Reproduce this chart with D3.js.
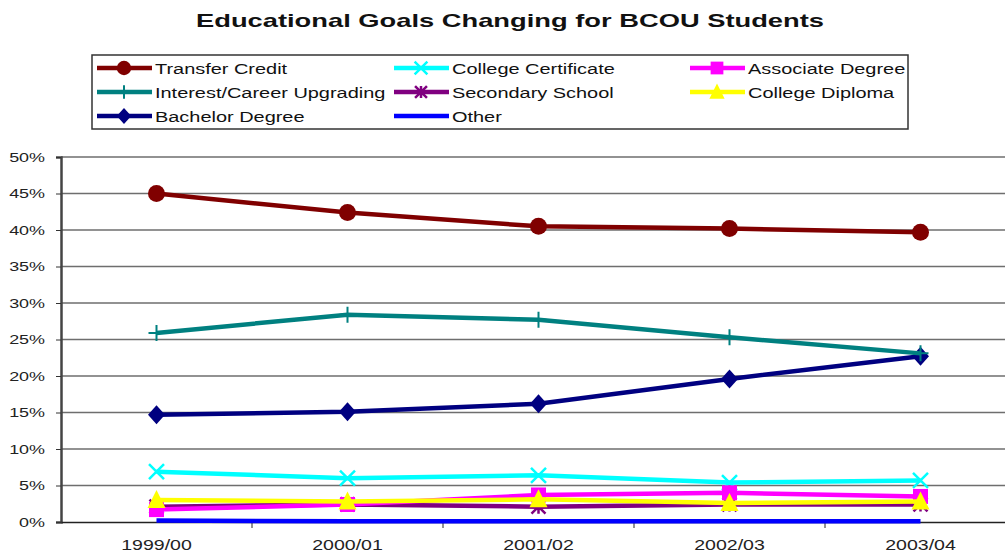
<!DOCTYPE html>
<html>
<head>
<meta charset="utf-8">
<script src="https://cdn.jsdelivr.net/npm/d3@7"></script>
<style>
  body { margin: 0; background: #fff; }
  svg { font-family: 'Liberation Sans', Arial, sans-serif; display: block; }
</style>
</head>
<body>
<script>
const years = ['1999/00', '2000/01', '2001/02', '2002/03', '2003/04']
const yTicks = [0, 0.05, 0.1, 0.15, 0.2, 0.25, 0.3, 0.35, 0.4, 0.45, 0.5]

const transferCredit = [0.450, 0.424, 0.405, 0.402, 0.397]
const collegeCertificate = [0.069, 0.060, 0.064, 0.054, 0.057]
const associateDegree = [0.017, 0.024, 0.037, 0.040, 0.035]
const interestCareer = [0.259, 0.284, 0.277, 0.253, 0.231]
const secondarySchool = [0.021, 0.024, 0.021, 0.024, 0.024]
const collegeDiploma = [0.030, 0.028, 0.031, 0.026, 0.028]
const bachelorDegree = [0.147, 0.151, 0.162, 0.196, 0.227]
const other = [0.002, 0.001, 0.001, 0.001, 0.001]

const series = [
    {name: 'Transfer Credit', values: transferCredit, color: '#800000', marker: 'circle'},
    {name: 'College Certificate', values: collegeCertificate, color: '#00ffff', marker: 'x'},
    {name: 'Associate Degree', values: associateDegree, color: '#ff00ff', marker: 'square'},
    {name: 'Interest/Career Upgrading', values: interestCareer, color: '#008080', marker: 'plus'},
    {name: 'Secondary School', values: secondarySchool, color: '#800080', marker: 'star'},
    {name: 'College Diploma', values: collegeDiploma, color: '#ffff00', marker: 'triangle'},
    {name: 'Bachelor Degree', values: bachelorDegree, color: '#000080', marker: 'diamond'},
    {name: 'Other', values: other, color: '#0000ff', marker: 'none'}
]

const width = 1005, height = 552
const margin = {left: 61, right: -11, top: 157, bottom: 30}
const sx = 1.33  // the original text is drawn horizontally stretched

const svg = d3.select('body').append('svg')
    .attr('width', width)
    .attr('height', height)

svg.append('text')
    .attr('x', 196).attr('y', 27)
    .attr('textLength', 628).attr('lengthAdjust', 'spacingAndGlyphs')
    .style('font-size', '19px').style('font-weight', 'bold')
    .attr('fill', '#111')
    .text('Educational Goals Changing for BCOU Students')

let x = d3.scaleBand().domain(years)
    .range([margin.left, width - margin.right])
let y = d3.scaleLinear().domain([0, 0.5])
    .range([height - margin.bottom, margin.top])

// gridlines
svg.append('g').selectAll('line')
    .data(yTicks.slice(1)).enter()
    .append('line')
    .attr('x1', margin.left).attr('x2', width - margin.right)
    .attr('y1', d => y(d)).attr('y2', d => y(d))
    .attr('stroke', '#6e6e6e').attr('stroke-width', 1.5)

// y axis
let yAxis = svg.append('g')
    .attr('transform', `translate(${margin.left},0)`)
    .call(d3.axisLeft(y).tickValues(yTicks).tickFormat(d3.format('.0%')).tickSize(5).tickPadding(7))
yAxis.select('.domain').attr('stroke', '#444').attr('stroke-width', 2.5)
yAxis.selectAll('.tick line').attr('stroke', '#333')
yAxis.selectAll('text')
    .style('font-size', '13.5px').attr('fill', '#222')
    .attr('transform', `scale(${sx},1)`)

// x axis
let xAxis = svg.append('g')
    .attr('transform', `translate(0,${y(0)})`)
    .call(d3.axisBottom(x).tickSize(0).tickPadding(17))
xAxis.select('.domain').attr('stroke', '#222').attr('stroke-width', 1.5)
xAxis.selectAll('.tick text')
    .style('font-size', '15px').attr('fill', '#222')
    .attr('transform', `scale(${sx * 0.98},1)`)
xAxis.selectAll('.sep')
    .data(years.slice(1)).enter()
    .append('line')
    .attr('x1', d => x(d)).attr('x2', d => x(d))
    .attr('y1', 0).attr('y2', 6)
    .attr('stroke', '#222')

const drawMarker = (g, s, cx, cy, scale) => {
    let k = scale || 1
    let c = s.color
    if (s.marker == 'circle') {
        g.append('circle').attr('cx', cx).attr('cy', cy).attr('r', 8.5 * k).attr('fill', c)
    } else if (s.marker == 'square') {
        g.append('rect').attr('x', cx - 7.5 * k).attr('y', cy - 7.5 * k)
            .attr('width', 15 * k).attr('height', 15 * k).attr('fill', c)
    } else if (s.marker == 'diamond') {
        let w = 8.5 * k, h = 9.5 * k
        g.append('path').attr('d', `M${cx},${cy - h}L${cx + w},${cy}L${cx},${cy + h}L${cx - w},${cy}Z`)
            .attr('fill', c)
    } else if (s.marker == 'triangle') {
        let w = 9 * k, h = 10 * k
        g.append('path').attr('d', `M${cx},${cy - h}L${cx + w},${cy + h * 0.8}L${cx - w},${cy + h * 0.8}Z`)
            .attr('fill', c)
    } else if (s.marker == 'x') {
        let r = 7.5 * k
        g.append('path').attr('d', `M${cx - r},${cy - r}L${cx + r},${cy + r}M${cx - r},${cy + r}L${cx + r},${cy - r}`)
            .attr('stroke', c).attr('stroke-width', 2.5)
    } else if (s.marker == 'plus') {
        let r = 8 * k
        g.append('path').attr('d', `M${cx - r},${cy}L${cx + r},${cy}M${cx},${cy - r}L${cx},${cy + r}`)
            .attr('stroke', c).attr('stroke-width', 2)
    } else if (s.marker == 'star') {
        let r = 7 * k
        g.append('path').attr('d', `M${cx - r},${cy - r}L${cx + r},${cy + r}M${cx - r},${cy + r}L${cx + r},${cy - r}M${cx},${cy - r}L${cx},${cy + r}`)
            .attr('stroke', c).attr('stroke-width', 2.5)
    }
}

let line = d3.line()
    .x((d, i) => x(years[i]) + x.bandwidth() / 2)
    .y(d => y(d))

// draw back series first so the top of the stack looks like the original
let order = [7, 6, 3, 0, 1, 4, 2, 5]
order.forEach(idx => {
    let s = series[idx]
    let g = svg.append('g')
    g.append('path')
        .datum(s.values)
        .attr('d', line)
        .attr('fill', 'none')
        .attr('stroke', s.color)
        .attr('stroke-width', 4.5)
    s.values.forEach((v, i) => {
        drawMarker(g, s, x(years[i]) + x.bandwidth() / 2, y(v))
    })
})

// legend
let legend = svg.append('g')
legend.append('rect')
    .attr('x', 92).attr('y', 55).attr('width', 816).attr('height', 74)
    .attr('fill', '#fff').attr('stroke', '#333').attr('stroke-width', 1.5)

const legCols = [97, 394, 690]
series.forEach((s, i) => {
    let col = i % 3, row = Math.floor(i / 3)
    let lx = legCols[col], ly = 68 + row * 24
    let g = legend.append('g')
    g.append('line')
        .attr('x1', lx).attr('x2', lx + 55)
        .attr('y1', ly).attr('y2', ly)
        .attr('stroke', s.color).attr('stroke-width', 4.5)
    drawMarker(g, s, lx + 27, ly, 0.85)
    g.append('text')
        .attr('transform', `translate(${lx + 58},${ly + 5.5}) scale(${sx},1)`)
        .style('font-size', '15px').attr('fill', '#111')
        .text(s.name)
})
</script>
</body>
</html>
